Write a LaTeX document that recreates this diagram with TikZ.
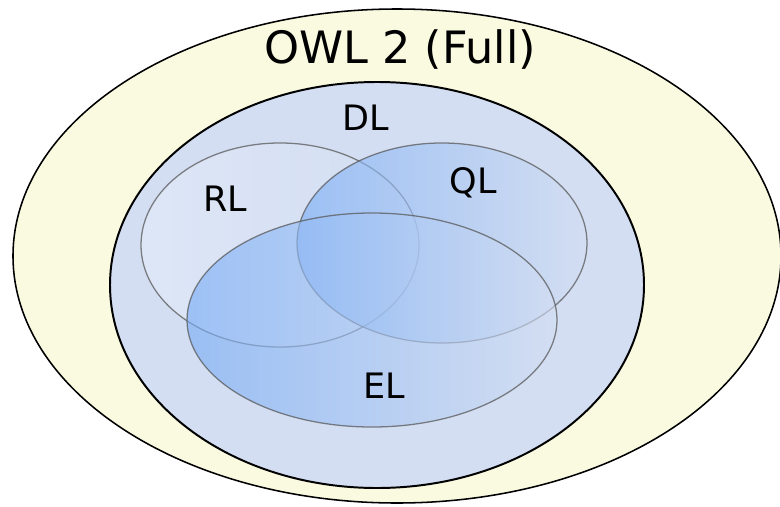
\documentclass[tikz,border=0pt]{standalone}
\usepackage{fontspec}
\setmainfont{DejaVu Sans}

\definecolor{owlyellow}{HTML}{FAFAE1}
\definecolor{dlblue}{HTML}{D3DEF2}
\definecolor{profblue}{HTML}{78ACF5}
\definecolor{rlblue}{HTML}{E4ECFA}

\tikzset{
	species/.style={draw=black, line width=1.1pt},
	profile/.style={draw=black!65, draw opacity=0.75, line width=0.9pt, fill opacity=0.62, left color=profblue, right color=dlblue},
	biglabel/.style={font=\fontsize{31.7}{38}\selectfont, inner sep=0pt, anchor=base},
	smalllabel/.style={font=\fontsize{24.9}{30}\selectfont, inner sep=0pt, anchor=base}
}

\begin{document}
\begin{tikzpicture}[x=0.025cm, y=-0.025cm, line cap=round, line join=round]
			\useasboundingbox (0,0) rectangle (780,506);
			
			% OWL 2 Full and DL
			\draw[species, fill=owlyellow] (397,256) ellipse [x radius=384, y radius=247];
			\draw[species, line width=1.4pt, fill=dlblue] (377,285) ellipse [x radius=267, y radius=203];
			
			% the three profiles
			\draw[profile, left color=rlblue, right color=dlblue] (280,245) ellipse [x radius=139, y radius=102];
			\draw[profile] (442,243) ellipse [x radius=145, y radius=100];
			\draw[profile] (372,320) ellipse [x radius=185, y radius=107];
			
			\node[biglabel] (full) at (400,63) {OWL 2 (Full)};
			\node[smalllabel] (dl) at (366,130) {DL};
			\node[smalllabel] (rl) at (225,211) {RL};
			\node[smalllabel] (ql) at (473,193) {QL};
			\node[smalllabel] (el) at (384,398) {EL};
		\end{tikzpicture}
\end{document}
